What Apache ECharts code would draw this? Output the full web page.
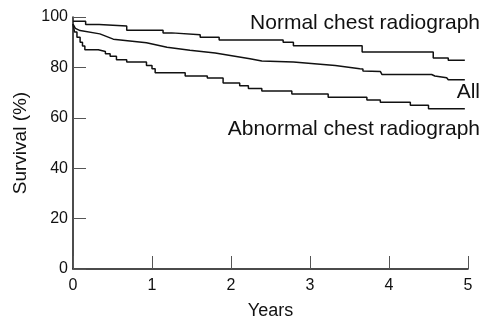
<!DOCTYPE html>
<html>
<head>
<meta charset="utf-8">
<script src="https://cdn.jsdelivr.net/npm/echarts@6/dist/echarts.min.js"></script>
<style>
  html, body { margin: 0; padding: 0; background: #fff; }
  #chart { width: 484px; height: 317px; }
</style>
</head>
<body>
<div id="chart"></div>
<script>
// Kaplan-Meier style survival curves (years, % surviving)
const normalTime = [0, 0.16, 0.33, 0.68, 1.14, 1.25, 1.61, 1.85, 2.66, 2.79, 3.66, 4.56, 4.75, 4.96];
const normalSurv = [98.3, 97.0, 96.4, 94.7, 93.7, 93.0, 92.0, 90.9, 90.0, 88.6, 86.1, 83.7, 82.8, 82.8];

const allTime = [0, 0.03, 0.09, 0.34, 0.51, 0.93, 1.19, 1.48, 1.80, 2.24, 2.39, 2.79, 2.81, 3.32, 3.63, 3.67, 3.67, 3.89, 3.91, 4.54, 4.58, 4.73, 4.75, 4.96];
const allSurv = [97.2, 95.5, 94.6, 93.3, 91.2, 89.8, 88.0, 86.8, 85.7, 83.4, 82.5, 82.1, 81.7, 80.8, 79.5, 79.4, 78.6, 78.4, 77.2, 77.2, 76.6, 75.9, 75.1, 75.1];

const abnTime = [0, 0.02, 0.05, 0.09, 0.12, 0.15, 0.32, 0.41, 0.47, 0.55, 0.68, 0.93, 1.0, 1.04, 1.42, 1.70, 1.90, 2.11, 2.22, 2.39, 2.77, 3.23, 3.72, 3.89, 4.27, 4.50, 4.96];
const abnSurv = [97.2, 94.0, 92.0, 90.0, 88.5, 87.0, 86.3, 85.4, 84.4, 83.0, 82.1, 80.8, 79.5, 77.9, 76.6, 75.8, 73.8, 72.7, 71.6, 70.6, 69.4, 68.2, 67.1, 66.2, 65.0, 63.6, 63.6];

const xTicks = [0, 1, 2, 3, 4, 5];
const yTicks = [0, 20, 40, 60, 80, 100];

const curveLabels = ['Normal chest radiograph', 'All', 'Abnormal chest radiograph'];

const FONT = 'Liberation Sans';
const INK = '#111';

function pairs(t, s) {
    return t.map((v, i) => [v, s[i]]);
}

const chart = echarts.init(document.getElementById('chart'));

const lineStyle = { color: INK, width: 1.5 };

chart.setOption({
    animation: false,
    backgroundColor: '#fff',
    grid: { left: 73, right: 16, top: 17, bottom: 48, outerBoundsMode: 'none', containLabel: false },
    xAxis: {
        type: 'value',
        min: xTicks[0],
        max: xTicks[xTicks.length - 1],
        interval: 1,
        name: 'Years',
        nameLocation: 'middle',
        nameGap: 33,
        nameTextStyle: { fontFamily: FONT, fontSize: 18, color: INK },
        axisLine: { show: true, onZero: false, lineStyle: { color: INK, width: 1.5 } },
        axisTick: { show: true, inside: true, length: 13, lineStyle: { color: '#555', width: 1 } },
        axisLabel: { fontFamily: FONT, fontSize: 16, color: INK, margin: 9 },
        splitLine: { show: false }
    },
    yAxis: {
        type: 'value',
        min: yTicks[0],
        max: yTicks[yTicks.length - 1],
        interval: 20,
        name: 'Survival (%)',
        nameLocation: 'middle',
        nameGap: 43,
        nameTextStyle: { fontFamily: FONT, fontSize: 19, color: INK },
        axisLine: { show: true, onZero: false, lineStyle: { color: INK, width: 1.5 } },
        axisTick: { show: true, inside: true, length: 13, lineStyle: { color: '#555', width: 1 } },
        axisLabel: { fontFamily: FONT, fontSize: 16, color: INK, margin: 5 },
        splitLine: { show: false }
    },
    series: [
        {
            name: curveLabels[0],
            type: 'line',
            step: 'end',
            symbol: 'none',
            data: pairs(normalTime, normalSurv),
            lineStyle: lineStyle
        },
        {
            name: curveLabels[1],
            type: 'line',
            symbol: 'none',
            data: pairs(allTime, allSurv),
            lineStyle: lineStyle
        },
        {
            name: curveLabels[2],
            type: 'line',
            step: 'end',
            symbol: 'none',
            data: pairs(abnTime, abnSurv),
            lineStyle: lineStyle
        }
    ],
    graphic: [
        { type: 'text', right: 4, top: 13, style: { text: curveLabels[0], fontFamily: FONT, fontSize: 21, fill: INK } },
        { type: 'text', right: 4, top: 82, style: { text: curveLabels[1], fontFamily: FONT, fontSize: 21, fill: INK } },
        { type: 'text', right: 4, top: 119, style: { text: curveLabels[2], fontFamily: FONT, fontSize: 21, fill: INK } }
    ]
});

window.addEventListener('resize', () => chart.resize());
</script>
</body>
</html>
